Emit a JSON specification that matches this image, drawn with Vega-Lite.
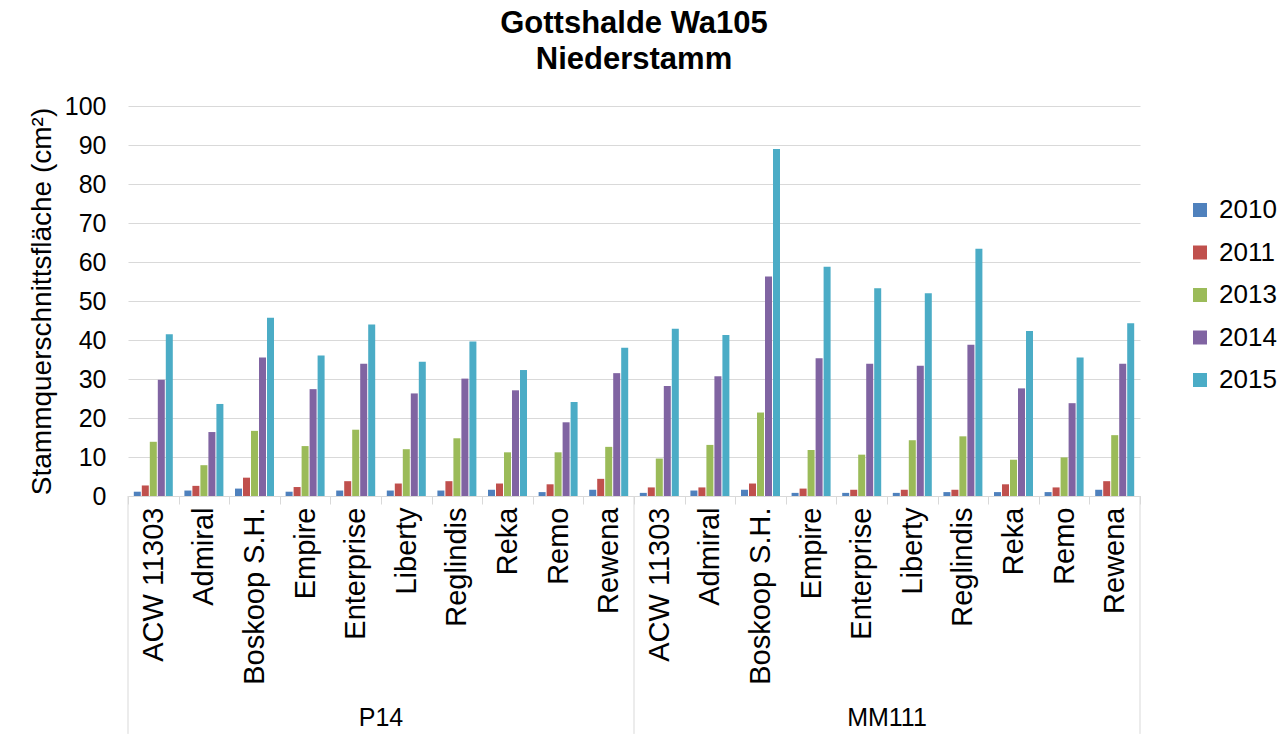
{
  "$schema": "https://vega.github.io/schema/vega-lite/v6.json",
  "padding": {"left": 28, "top": 8, "right": 5, "bottom": 0},
  "width": 1012,
  "height": 390,
  "config": {
    "font": "Liberation Sans",
    "view": {"stroke": null},
    "axis": {"labelColor": "#000000", "titleColor": "#000000", "labelFont": "Liberation Sans", "titleFont": "Liberation Sans"},
    "axisX": {
      "title": null,
      "labelAngle": -90,
      "labelFontSize": 29,
      "labelPadding": 3,
      "tickBand": "extent",
      "tickSize": 8,
      "tickColor": "#d9d9d9",
      "domainColor": "#d9d9d9",
      "grid": false
    },
    "axisY": {
      "labelOverlap": false,
      "grid": true,
      "gridColor": "#d9d9d9",
      "domain": false,
      "ticks": false,
      "labelFontSize": 25,
      "labelPadding": 22,
      "titleFontSize": 28,
      "titleFontWeight": "normal",
      "titlePadding": 8
    }
  },
  "title": {
    "text": ["Gottshalde Wa105", "Niederstamm"],
    "fontSize": 31,
    "fontWeight": "bold",
    "color": "#000000",
    "lineHeight": 36,
    "offset": 18,
    "anchor": "middle"
  },
  "layer": [
    {
      "data": {
        "values": [
          {"u": "P14", "s": "ACW 11303", "2010": 1.1, "2011": 2.7, "2013": 13.9, "2014": 29.8, "2015": 41.5},
          {"u": "P14", "s": "Admiral", "2010": 1.4, "2011": 2.6, "2013": 7.9, "2014": 16.4, "2015": 23.6},
          {"u": "P14", "s": "Boskoop S.H.", "2010": 1.9, "2011": 4.7, "2013": 16.7, "2014": 35.5, "2015": 45.7},
          {"u": "P14", "s": "Empire", "2010": 1.1, "2011": 2.3, "2013": 12.8, "2014": 27.4, "2015": 36.0},
          {"u": "P14", "s": "Enterprise", "2010": 1.4, "2011": 3.8, "2013": 17.0, "2014": 33.9, "2015": 44.0},
          {"u": "P14", "s": "Liberty", "2010": 1.4, "2011": 3.2, "2013": 12.0, "2014": 26.3, "2015": 34.4},
          {"u": "P14", "s": "Reglindis", "2010": 1.4, "2011": 3.8, "2013": 14.8, "2014": 30.1, "2015": 39.6},
          {"u": "P14", "s": "Reka", "2010": 1.6, "2011": 3.2, "2013": 11.2, "2014": 27.1, "2015": 32.3},
          {"u": "P14", "s": "Remo", "2010": 1.0, "2011": 3.0, "2013": 11.2, "2014": 18.9, "2015": 24.1},
          {"u": "P14", "s": "Rewena", "2010": 1.6, "2011": 4.4, "2013": 12.6, "2014": 31.5, "2015": 38.0},
          {"u": "MM111", "s": "ACW 11303", "2010": 0.8, "2011": 2.2, "2013": 9.6, "2014": 28.2, "2015": 42.9},
          {"u": "MM111", "s": "Admiral", "2010": 1.4, "2011": 2.2, "2013": 13.1, "2014": 30.7, "2015": 41.3},
          {"u": "MM111", "s": "Boskoop S.H.", "2010": 1.6, "2011": 3.2, "2013": 21.4, "2014": 56.3, "2015": 89.0},
          {"u": "MM111", "s": "Empire", "2010": 0.8, "2011": 1.9, "2013": 11.8, "2014": 35.3, "2015": 58.8},
          {"u": "MM111", "s": "Enterprise", "2010": 0.8, "2011": 1.6, "2013": 10.6, "2014": 33.9, "2015": 53.3},
          {"u": "MM111", "s": "Liberty", "2010": 0.8, "2011": 1.6, "2013": 14.3, "2014": 33.4, "2015": 52.0},
          {"u": "MM111", "s": "Reglindis", "2010": 1.0, "2011": 1.6, "2013": 15.3, "2014": 38.8, "2015": 63.4},
          {"u": "MM111", "s": "Reka", "2010": 1.0, "2011": 3.0, "2013": 9.3, "2014": 27.6, "2015": 42.3},
          {"u": "MM111", "s": "Remo", "2010": 1.0, "2011": 2.2, "2013": 9.9, "2014": 23.8, "2015": 35.5},
          {"u": "MM111", "s": "Rewena", "2010": 1.6, "2011": 3.8, "2013": 15.6, "2014": 33.9, "2015": 44.3}
        ]
      },
      "transform": [
        {"fold": ["2010", "2011", "2013", "2014", "2015"], "as": ["Jahr", "Wert"]},
        {"calculate": "datum.u + '|' + datum.s", "as": "k"}
      ],
      "mark": {"type": "bar"},
      "encoding": {
        "x": {
          "field": "k",
          "type": "nominal",
          "sort": ["P14|ACW 11303", "P14|Admiral", "P14|Boskoop S.H.", "P14|Empire", "P14|Enterprise", "P14|Liberty", "P14|Reglindis", "P14|Reka", "P14|Remo", "P14|Rewena", "MM111|ACW 11303", "MM111|Admiral", "MM111|Boskoop S.H.", "MM111|Empire", "MM111|Enterprise", "MM111|Liberty", "MM111|Reglindis", "MM111|Reka", "MM111|Remo", "MM111|Rewena"],
          "scale": {
            "domain": ["P14|ACW 11303", "P14|Admiral", "P14|Boskoop S.H.", "P14|Empire", "P14|Enterprise", "P14|Liberty", "P14|Reglindis", "P14|Reka", "P14|Remo", "P14|Rewena", "MM111|ACW 11303", "MM111|Admiral", "MM111|Boskoop S.H.", "MM111|Empire", "MM111|Enterprise", "MM111|Liberty", "MM111|Reglindis", "MM111|Reka", "MM111|Remo", "MM111|Rewena"],
            "paddingInner": 0,
            "paddingOuter": 0
          },
          "axis": {"labelExpr": "split(datum.label, '|')[1]"}
        },
        "xOffset": {
          "field": "Jahr",
          "type": "nominal",
          "scale": {"paddingInner": 0.125, "paddingOuter": 0.725}
        },
        "y": {
          "field": "Wert",
          "type": "quantitative",
          "scale": {"domain": [0, 100], "nice": false},
          "axis": {
            "title": "Stammquerschnittsfläche (cm²)",
            "values": [0, 10, 20, 30, 40, 50, 60, 70, 80, 90, 100]
          }
        },
        "color": {
          "field": "Jahr",
          "type": "nominal",
          "scale": {
            "domain": ["2010", "2011", "2013", "2014", "2015"],
            "range": ["#4F81BD", "#C0504D", "#9BBB59", "#8064A2", "#4BACC6"]
          },
          "legend": {
            "title": null,
            "orient": "none",
            "legendX": 1059,
            "legendY": 91,
            "labelFontSize": 26,
            "labelColor": "#000000",
            "labelFont": "Liberation Sans",
            "symbolType": "square",
            "symbolSize": 196,
            "symbolStrokeWidth": 0,
            "labelOffset": 6,
            "rowPadding": 16.5
          }
        }
      }
    },
    {
      "data": {"values": [{"k": "P14|ACW 11303"}, {"k": "MM111|ACW 11303"}]},
      "mark": {"type": "rule", "color": "#d9d9d9", "strokeWidth": 1},
      "encoding": {
        "x": {"field": "k", "type": "nominal", "sort": null, "bandPosition": 0, "axis": {"labelExpr": "split(datum.label, '|')[1]"}},
        "y": {"datum": 0, "type": "quantitative", "axis": {"title": "Stammquerschnittsfläche (cm²)", "values": [0, 10, 20, 30, 40, 50, 60, 70, 80, 90, 100]}},
        "y2": {"datum": -61}
      }
    },
    {
      "data": {"values": [{"k": "MM111|Rewena"}]},
      "mark": {"type": "rule", "color": "#d9d9d9", "strokeWidth": 1},
      "encoding": {
        "x": {"field": "k", "type": "nominal", "sort": null, "bandPosition": 1, "axis": {"labelExpr": "split(datum.label, '|')[1]"}},
        "y": {"datum": 0, "type": "quantitative", "axis": {"title": "Stammquerschnittsfläche (cm²)", "values": [0, 10, 20, 30, 40, 50, 60, 70, 80, 90, 100]}},
        "y2": {"datum": -61}
      }
    },
    {
      "data": {"values": [{"u": "P14", "k": "P14|Enterprise"}, {"u": "MM111", "k": "MM111|Enterprise"}]},
      "mark": {"type": "text", "fontSize": 25, "font": "Liberation Sans", "color": "#000000", "baseline": "middle", "align": "center"},
      "encoding": {
        "x": {"field": "k", "type": "nominal", "sort": null, "bandPosition": 1, "axis": {"labelExpr": "split(datum.label, '|')[1]"}},
        "y": {"datum": -57, "type": "quantitative", "axis": {"title": "Stammquerschnittsfläche (cm²)", "values": [0, 10, 20, 30, 40, 50, 60, 70, 80, 90, 100]}},
        "text": {"field": "u"}
      }
    }
  ]
}
